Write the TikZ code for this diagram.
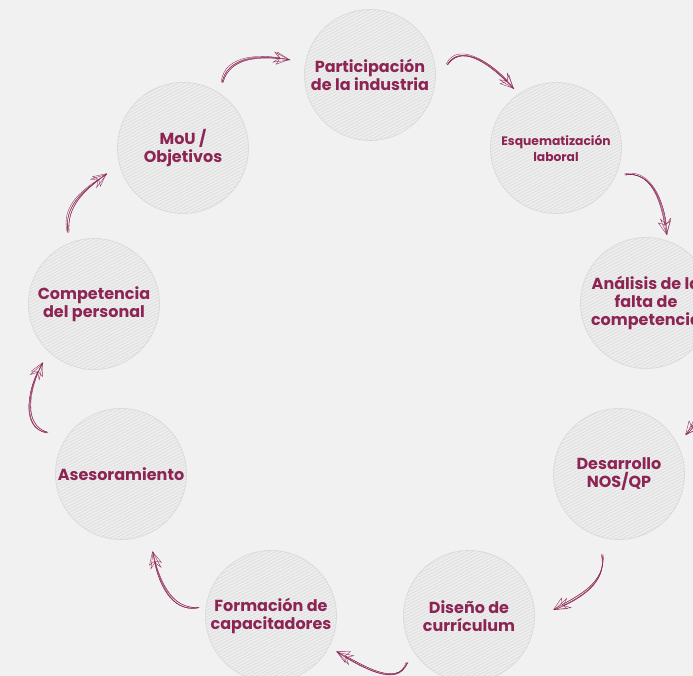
\documentclass[tikz,border=0pt]{standalone}
\usepackage{fontspec}
\setmainfont{Poppins}[BoldFont={Poppins Bold}]
\usetikzlibrary{calc,arrows.meta,patterns.meta}

\definecolor{bg}{HTML}{F1F1F1}
\definecolor{wine}{HTML}{8C2454}
\definecolor{ring}{HTML}{DCDCDC}
\definecolor{hatch}{HTML}{D2D2D2}
\definecolor{disc}{HTML}{EDEDED}

\tikzset{
  stage/.style={circle, minimum size=131pt, inner sep=0pt, draw=ring,
    line width=0.8pt, fill=disc,
    postaction={pattern={Lines[angle=28,distance=2.8pt,line width=0.3pt]},
      pattern color=hatch},
    text=wine, align=center, font=\bfseries\fontsize{16}{18}\selectfont},
  smalltext/.style={font=\bfseries\fontsize{12.3}{16}\selectfont},
  strand/.style={draw=wine, line width=0.35pt},
}

% (from, to, out, in)
\newcommand{\sketcharrow}[4]{
    \draw[strand] (#1) to[out=#3,in=#4] (#2);
    \draw[strand] ($(#1)+(1pt,0.6pt)$) to[out=#3-5,in=#4+4] ($(#2)+(-0.6pt,0.5pt)$);
    \draw[strand] ($(#1)+(-0.8pt,1pt)$) to[out=#3+4,in=#4-4] (#2);
    \draw[strand, -{Stealth[open,length=17pt,width=11pt,inset=6pt]}]
      (#1) to[out=#3,in=#4] (#2);
    \draw[strand, -{Stealth[open,length=13pt,width=13pt,inset=3pt]}]
      ($(#1)+(1pt,0.6pt)$) to[out=#3-5,in=#4+4] ($(#2)+(-0.6pt,0.5pt)$);
}

\begin{document}
\begin{tikzpicture}[x=1pt,y=1pt]

  \path[use as bounding box, fill=bg] (0,0) rectangle (693,676);
  \clip (0,0) rectangle (693,676);

  \node[stage] (ind) at (370,601) {Participación\\de la industria};
  \node[stage, smalltext] (esq) at (556,528) {Esquematización\\laboral};
  \node[stage] (ana) at (646,373) {Análisis de la\\falta de\\competencia};
  \node[stage] (des) at (619,202) {Desarrollo\\NOS/QP};
  \node[stage] (dis) at (469,60) {Diseño de\\currículum};
  \node[stage] (for) at (271,60) {Formación de\\capacitadores};
  \node[stage] (ase) at (121,202) {Asesoramiento};
  \node[stage] (com) at (94,372) {Competencia\\del personal};
  \node[stage] (mou) at (183,528) {MoU /\\Objetivos};

  % arrow ends
  \coordinate (a1) at ($(mou)+(39pt,65pt)$);   \coordinate (b1) at ($(ind)+(-80pt,15pt)$);
  \coordinate (a2) at ($(ind)+(77pt,10pt)$);   \coordinate (b2) at ($(esq)+(-42pt,59pt)$);
  \coordinate (a3) at ($(esq)+(69pt,-27pt)$);  \coordinate (b3) at ($(ana)+(21pt,68pt)$);
  \coordinate (a4) at ($(ana)+(64pt,-75pt)$);  \coordinate (b4) at ($(des)+(67pt,39pt)$);
  \coordinate (a5) at ($(des)+(-17pt,-81pt)$); \coordinate (b5) at ($(dis)+(85pt,6pt)$);
  \coordinate (a6) at ($(dis)+(-62pt,-47pt)$); \coordinate (b6) at ($(for)+(66pt,-36pt)$);
  \coordinate (a7) at ($(for)+(-73pt,8pt)$);   \coordinate (b7) at ($(ase)+(32pt,-78pt)$);
  \coordinate (a8) at ($(ase)+(-74pt,41pt)$);  \coordinate (b8) at ($(com)+(-51pt,-59pt)$);
  \coordinate (a9) at ($(com)+(-26pt,71pt)$);  \coordinate (b9) at ($(mou)+(-76pt,-26pt)$);

  \sketcharrow{a1}{b1}{80}{170}
  \sketcharrow{a2}{b2}{60}{130}
  \sketcharrow{a3}{b3}{10}{95}
  \sketcharrow{a4}{b4}{-100}{45}
  \sketcharrow{a5}{b5}{-80}{25}
  \sketcharrow{a6}{b6}{-110}{-30}
  \sketcharrow{a7}{b7}{190}{-80}
  \sketcharrow{a8}{b8}{170}{-120}
  \sketcharrow{a9}{b9}{100}{-145}

\end{tikzpicture}
\end{document}
